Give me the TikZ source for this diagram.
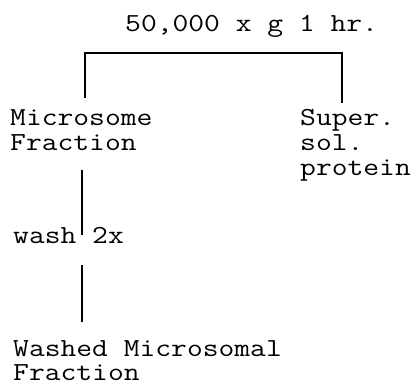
\documentclass[tikz,border=0pt]{standalone}
\usepackage{fontspec}
\setmonofont{Latin Modern Mono}[FakeStretch=1.18]
\begin{document}
\begin{tikzpicture}[x=1pt,y=1pt,
  lbl/.style={anchor=base west,inner sep=0pt,font=\fontsize{26}{26}\selectfont\ttfamily},
  link/.style={draw=black,line width=1.6pt}]
\useasboundingbox (0,0) rectangle (417,-385);
% labels, one node per typed line
\node[lbl] (title)   at (125,-32)  {50,000 x g 1 hr.};
\node[lbl] (microA)  at (10,-125)  {Microsome};
\node[lbl] (microB)  at (10,-150)  {Fraction};
\node[lbl] (superA)  at (300,-125) {Super.};
\node[lbl] (superB)  at (300,-150) {sol.};
\node[lbl] (superC)  at (300,-175) {protein};
\node[lbl] (wash)    at (13,-243)  {wash 2x};
\node[lbl] (washedA) at (13,-356)  {Washed Microsomal};
\node[lbl] (washedB) at (13,-380)  {Fraction};
% centrifugation bracket
\draw[link] ([shift={(75,27)}]microA.base west) -- ++(0,45)
            -| ([shift={(42,22)}]superA.base west);
% washing steps
\draw[link] ([shift={(72,-20)}]microB.base west) -- ([shift={(69,8)}]wash.base west);
\draw[link] ([shift={(69,-22)}]wash.base west) -- ([shift={(69,34)}]washedA.base west);
\end{tikzpicture}
\end{document}
